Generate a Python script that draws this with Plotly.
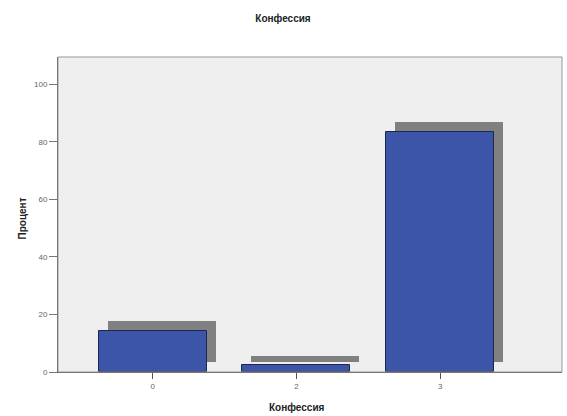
import plotly.graph_objects as go

categories = ["0", "2", "3"]
percent = [14.2, 2.3, 83.6]
y_ticks = [0, 20, 40, 60, 80, 100]

title_text = "Конфессия"
x_title = "Конфессия"
y_title = "Процент"

BAR_W = 0.75
SHADOW_DX = 9 / 144.0      # category units
SHADOW_DY = 3.4            # value units

fig = go.Figure()
fig.add_trace(go.Bar(
    x=categories, y=percent, base=[SHADOW_DY] * len(categories),
    width=BAR_W, offset=-BAR_W / 2 + SHADOW_DX,
    marker=dict(color="#808080", line=dict(width=0)),
    hoverinfo="skip", showlegend=False,
))
fig.add_trace(go.Bar(
    x=categories, y=percent,
    width=BAR_W, offset=-BAR_W / 2,
    marker=dict(color="#3c55a8", line=dict(color="#1c2650", width=1)),
    showlegend=False,
))

font_family = "Liberation Sans, Arial, sans-serif"
fig.update_layout(
    width=567, height=416,
    margin=dict(l=58, r=5, t=57, b=44),
    paper_bgcolor="white", plot_bgcolor="#efefef",
    barmode="overlay", bargap=0,
    font=dict(family=font_family, size=8, color="#555555"),
    title=dict(text=f"<b>{title_text}</b>", x=283 / 567, xanchor="center",
               y=1 - 18 / 416, yanchor="middle",
               font=dict(size=10, color="#222222", family=font_family)),
    xaxis=dict(type="category", categoryorder="array", categoryarray=categories,
               range=[-0.658, 2.847], showgrid=False, zeroline=False,
               showline=True, linecolor="#555555", linewidth=1,
               ticks="outside", ticklen=6, tickcolor="#555555",
               tickfont=dict(size=8, color="#666666")),
    yaxis=dict(range=[0, 109.5], tickvals=y_ticks, showgrid=False, zeroline=False,
               showline=True, linecolor="#555555", linewidth=1,
               ticks="outside", ticklen=8, tickcolor="#777777",
               tickfont=dict(size=8, color="#666666")),
    shapes=[dict(type="rect", xref="paper", yref="paper", x0=0, y0=0, x1=1, y1=1,
                 line=dict(color="#999999", width=1), fillcolor="rgba(0,0,0,0)",
                 layer="above")],
    annotations=[
        dict(text=f"<b>{x_title}</b>", xref="paper", yref="paper",
             x=(296.7 - 58) / 504, y=(372 - 407) / 315, showarrow=False,
             xanchor="center", yanchor="middle",
             font=dict(size=10, color="#222222", family=font_family)),
        dict(text=f"<b>{y_title}</b>", xref="paper", yref="paper",
             x=(22.5 - 58) / 504, y=(372 - 219) / 315, showarrow=False,
             textangle=-90, xanchor="center", yanchor="middle",
             font=dict(size=10, color="#222222", family=font_family)),
    ],
)

fig.write_html(
    "out.html",
    config={"displayModeBar": False},
    post_script="document.body.style.margin='0';document.body.style.overflow='hidden';",
)
